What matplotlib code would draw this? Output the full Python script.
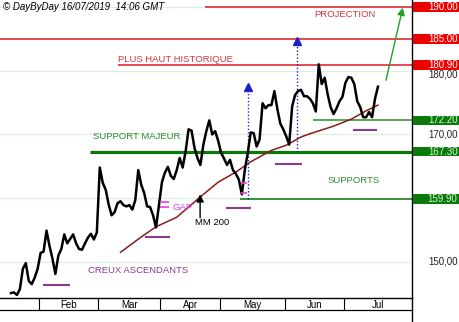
import numpy as np
import pandas as pd
import matplotlib
matplotlib.use('Agg')
import matplotlib.pyplot as plt
import matplotlib.transforms as mtransforms
from matplotlib.patches import Rectangle
from matplotlib.lines import Line2D

plt.rcParams['font.family'] = ['Liberation Sans', 'DejaVu Sans']

# trading days, Euronext holidays removed
holidays = ['2019-04-19', '2019-04-22', '2019-05-01']

# daily closes (Jan 18 -> Jul 16 2019)
close = [
    145.1, 145.2, 144.8, 145.7, 148.9, 149.8, 147.0, 146.5, 147.5, 148.9,
    151.4, 151.6, 154.9, 152.5, 150.5, 148.1, 151.0, 152.0, 154.3, 152.9,
    153.6, 154.3, 152.9, 152.0, 151.9, 152.9, 153.8, 154.4, 153.5, 154.6,
    164.8, 162.4, 161.3, 159.0, 157.3, 157.8, 159.2, 159.5, 158.9, 158.7, 158.9,
    158.2, 159.7, 164.4, 162.1, 160.8, 158.7, 158.6, 157.3, 155.4, 158.9,
    162.5, 164.0, 164.9, 163.5, 163.0, 164.4, 166.3, 164.8, 167.3, 170.8,
    170.6, 167.9, 166.3, 165.2, 168.4, 170.5, 172.2, 170.0, 170.5, 169.0,
    167.1, 166.2, 165.2, 166.0, 164.4, 163.8, 162.9, 160.6, 164.4, 167.1, 170.3,
    170.2, 168.1, 169.2, 174.9, 174.1, 174.6, 174.6, 176.8, 174.0, 171.7, 170.8,
    169.7, 168.4, 174.4, 176.2, 176.8, 177.0, 176.0, 176.0, 175.6, 174.9,
    173.6, 181.0, 177.9, 178.9, 176.3, 174.3, 173.2, 174.1, 175.2, 175.9,
    178.1, 179.0, 178.9, 177.9, 175.2, 174.3, 172.7, 172.7, 173.5, 172.7, 175.6, 177.5,
]

# 200-day moving average (MM 200)
ma_dates = ['2019-03-12', '2019-03-21', '2019-03-28', '2019-04-08', '2019-04-18',
            '2019-04-30', '2019-05-09', '2019-05-16', '2019-05-27', '2019-06-03',
            '2019-06-10', '2019-06-13', '2019-06-25', '2019-07-03', '2019-07-10',
            '2019-07-16']
ma_values = [151.5, 153.9, 155.5, 157.0, 160.2, 162.5, 164.1, 165.7, 167.5, 168.3,
             169.6, 170.1, 171.3, 172.4, 173.7, 174.6]

red_levels = [190.00, 185.00, 180.90]
green_levels = [172.20, 167.30, 159.90]
grid_levels = [150, 160, 170, 180, 190]
months = ['Feb', 'Mar', 'Apr', 'May', 'Jun', 'Jul']

# rising troughs (creux ascendants)
creux_from = [10.8, 45.3, 72.6, 89.2, 115.5]
creux_to = [19.9, 53.7, 81.1, 98.3, 123.6]
creux_level = [146.4, 153.9, 158.4, 165.4, 170.7]

dates = pd.bdate_range('2019-01-18', '2019-07-16').drop(pd.to_datetime(holidays))
x = np.arange(len(dates))
ma_x = dates.get_indexer(pd.to_datetime(ma_dates))

W, H = 460, 322
fig = plt.figure(figsize=(W / 100, H / 100), dpi=100)
ax = fig.add_axes([0, 24 / H, 412 / W, 298 / H])
x0, x1 = -3.72, 135.5
ax.set_xlim(x0, x1)
ax.set_ylim(144.32, 191.10)

for s in ['top', 'left']:
    ax.spines[s].set_visible(False)
ax.spines['right'].set_linewidth(1)
ax.spines['bottom'].set_linewidth(1)

# grid
for g in grid_levels:
    ax.axhline(g, color='#dcefdc', lw=0.9, zorder=0)

# resistance lines
red_from = [65.5, x0, 36.1]
for lvl, start in zip(red_levels, red_from):
    ax.hlines(lvl, start, x1, color='#e23b45', lw=1.3, zorder=2)

# support lines
green_from = [102, 26.7, 77.4]
green_lw = [1.2, 2.3, 1.3]
green_col = ['#3a9a3a', '#0b7a0b', '#2a8a2a']
for lvl, start, lw, c in zip(green_levels, green_from, green_lw, green_col):
    ax.hlines(lvl, start, x1, color=c, lw=lw, zorder=2)

# price and moving average
ax.plot(x, close, color='black', lw=1.8, zorder=4)
ax.plot(ma_x, ma_values, color='#8b1c1c', lw=1.1, zorder=3)

# troughs
purple = '#8c3b8c'
for a, b, lvl in zip(creux_from, creux_to, creux_level):
    ax.hlines(lvl, a, b, color=purple, lw=1.5, zorder=3)

# gaps
gap_col = '#e040e0'
ax.hlines([159.4, 158.6], 50.3, 53.3, color=gap_col, lw=1.2, zorder=5)
ax.hlines([162.4, 160.8], 77.7, 79.7, color=gap_col, lw=1.2, zorder=5)

# blue projection arrows
blue = '#1f1fcc'
ax.vlines(80.1, 159.9, 177.2, color=blue, lw=1, linestyles=(0, (1, 1.5)), zorder=3)
ax.plot(80.1, 177.5, marker='^', ms=6, color=blue, zorder=5)
ax.vlines(96.6, 167.3, 184.2, color=blue, lw=1, linestyles=(0, (1, 1.5)), zorder=3)
ax.plot(96.6, 184.6, marker='^', ms=6, color=blue, zorder=5)

# MM 200 arrow
ax.annotate('', xy=(63.9, 160.6), xytext=(63.9, 156.9),
            arrowprops=dict(arrowstyle='-|>', color='black', lw=1,
                            mutation_scale=11, shrinkA=0, shrinkB=0))
# projection arrow
ax.annotate('', xy=(132.4, 189.9), xytext=(126.7, 178.5),
            arrowprops=dict(arrowstyle='-|>', color='#22a022', lw=1,
                            mutation_scale=11, shrinkA=0, shrinkB=0),
            annotation_clip=False)

# labels
red_txt = '#d9343f'
green_txt = '#2e8b2e'
ax.text(36.1, 181.8, 'PLUS HAUT HISTORIQUE', color=red_txt, fontsize=6.8, va='center')
ax.text(112.8, 188.9, 'PROJECTION', color=red_txt, fontsize=6.8, va='center', ha='center')
ax.text(27.7, 169.6, 'SUPPORT MAJEUR', color=green_txt, fontsize=6.8, va='center')
ax.text(106.8, 162.8, 'SUPPORTS', color=green_txt, fontsize=6.8, va='center')
ax.text(26.0, 148.6, 'CREUX ASCENDANTS', color=purple, fontsize=6.8, va='center')
ax.text(54.7, 158.6, 'GAP', color=gap_col, fontsize=6.8, va='center')
ax.text(62.2, 156.2, 'MM 200', color='black', fontsize=6.8, va='center')

fig.text(3 / W, 1 - 7 / H, '\u00a9 DayByDay 16/07/2019  14:06 GMT',
         fontsize=7, style='italic', va='center')

# right-hand price scale
trans = mtransforms.blended_transform_factory(ax.transAxes, ax.transData)
tx = 1 + 45.5 / 412
for g in grid_levels:
    if g == 180:
        # mostly hidden behind the 180.90 box, nudged down like the reference
        ax.text(tx, g - 0.55, f'{g},00', transform=trans, ha='right', va='center',
                fontsize=7, color='#222222', zorder=4, clip_on=False)
        continue
    ax.text(tx, g, f'{g},00', transform=trans, ha='right', va='center',
            fontsize=7, color='#222222', zorder=4, clip_on=False)
for lvl in red_levels:
    ax.add_patch(Rectangle((1.002, lvl - 0.75), 48 / 412, 1.5, transform=trans,
                           fc='#ee0000', ec='none', clip_on=False, zorder=5))
    ax.text(tx, lvl, f'{lvl:.2f}', transform=trans, ha='right', va='center',
            fontsize=7, color='white', zorder=6, clip_on=False)
for lvl in green_levels:
    ax.add_patch(Rectangle((1.002, lvl - 0.75), 48 / 412, 1.5, transform=trans,
                           fc='#0a7a0a', ec='none', clip_on=False, zorder=5))
    ax.text(tx, lvl, f'{lvl:.2f}', transform=trans, ha='right', va='center',
            fontsize=7, color='#d6f2d6', zorder=6, clip_on=False)

# month axis
ax.set_yticks([])
starts = [int(np.argmax(dates.month == m)) for m in range(2, 8)]
edges = [s - 0.5 for s in starts] + [x1]
centers = [(edges[k] + edges[k + 1]) / 2 for k in range(len(months))]
ax.set_xticks(centers)
ax.set_xticklabels(months)
ax.tick_params(axis='x', length=0, pad=1.5, labelsize=7)
tx_x = mtransforms.blended_transform_factory(ax.transData, ax.transAxes)
for e in edges[:-1]:
    ax.plot([e, e], [0, -11 / 298], transform=tx_x, color='black', lw=0.8, clip_on=False)

fig.add_artist(Line2D([0, 412 / W], [12 / H, 12 / H], color='black', lw=0.9))
fig.add_artist(Line2D([412 / W, 412 / W], [0, 24 / H], color='black', lw=1))

fig.savefig('out.png', dpi=100)
